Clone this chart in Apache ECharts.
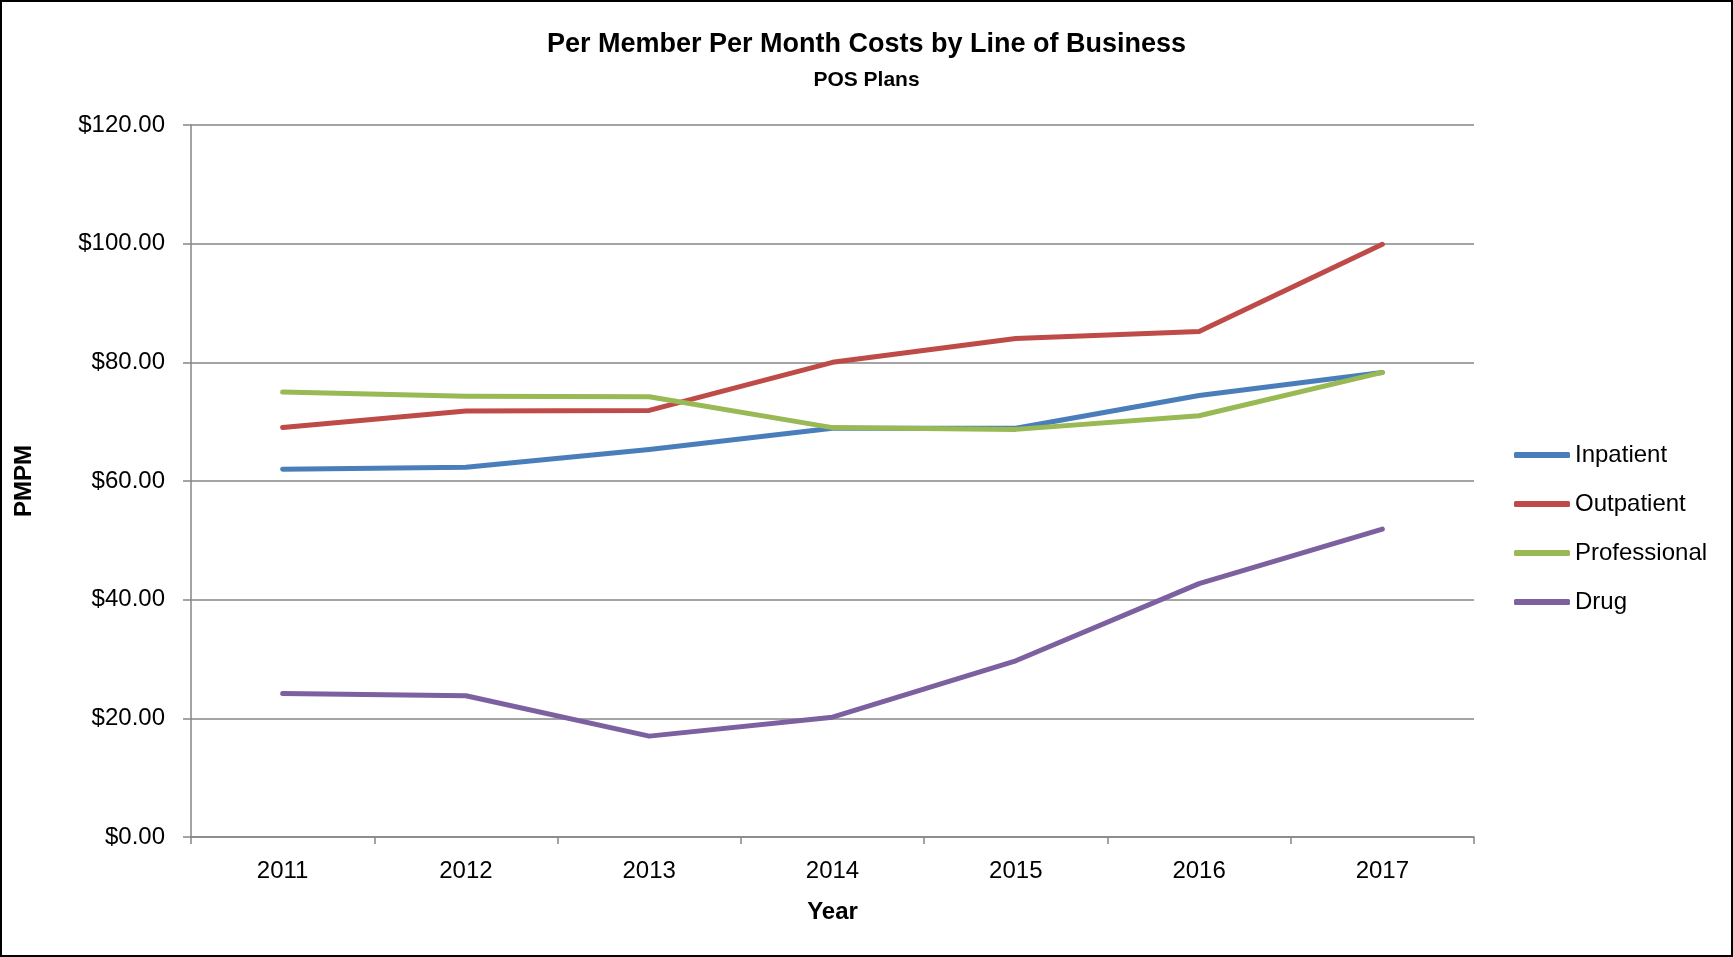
<!DOCTYPE html>
<html>
<head>
<meta charset="utf-8">
<title>PMPM Costs by Line of Business</title>
<script src="https://cdn.jsdelivr.net/npm/echarts@6/dist/echarts.min.js"></script>
<style>
  html, body { margin: 0; padding: 0; background: #fff; }
  #main { width: 1733px; height: 957px; }
</style>
</head>
<body>
<div id="main"></div>
<script>
// data
var years = ['2011', '2012', '2013', '2014', '2015', '2016', '2017'];
var inpatient = [62.0, 62.3, 65.3, 68.9, 68.9, 74.4, 78.3];
var outpatient = [69.0, 71.8, 71.9, 80.0, 84.0, 85.2, 99.9];
var professional = [75.0, 74.3, 74.2, 69.0, 68.7, 71.0, 78.3];
var drug = [24.2, 23.8, 17.0, 20.2, 29.7, 42.7, 51.9];

var font = 'Liberation Sans';

var chart = echarts.init(document.getElementById('main'));

function lineSeries(name, data, color) {
  return {
    name: name,
    type: 'line',
    data: data,
    showSymbol: false,
    symbol: 'none',
    lineStyle: { color: color, width: 5, cap: 'round', join: 'round' },
    itemStyle: { color: color }
  };
}

var option = {
  animation: false,
  backgroundColor: '#fff',
  textStyle: { fontFamily: font, color: '#000' },
  graphic: [{
    type: 'rect',
    shape: { x: 1, y: 1, width: 1731, height: 955 },
    style: { fill: 'none', stroke: '#000', lineWidth: 2 },
    silent: true
  }],
  title: [{
    text: 'Per Member Per Month Costs by Line of Business',
    left: 'center',
    top: 26,
    textStyle: { fontFamily: font, fontSize: 27, fontWeight: 'bold', color: '#000' }
  }, {
    text: 'POS Plans',
    left: 'center',
    top: 65,
    textStyle: { fontFamily: font, fontSize: 21, fontWeight: 'bold', color: '#000' }
  }],
  legend: {
    orient: 'vertical',
    left: 1514,
    top: 443,
    padding: 0,
    icon: 'roundRect',
    itemWidth: 56,
    itemHeight: 6,
    itemGap: 25,
    textStyle: { fontFamily: font, fontSize: 24, color: '#000' },
    data: ['Inpatient', 'Outpatient', 'Professional', 'Drug']
  },
  grid: { left: 191, top: 125, width: 1283, height: 712, containLabel: false },
  xAxis: {
    type: 'category',
    data: years,
    boundaryGap: true,
    name: 'Year',
    nameLocation: 'middle',
    nameGap: 63,
    nameTextStyle: { fontFamily: font, fontSize: 24, fontWeight: 'bold', color: '#000' },
    axisLine: { lineStyle: { color: '#868686', width: 1.5 } },
    axisTick: { show: true, length: 7, inside: false, alignWithLabel: false, lineStyle: { color: '#868686', width: 1.5 } },
    axisLabel: { fontFamily: font, fontSize: 24, color: '#000', margin: 22 },
    splitLine: { show: false }
  },
  yAxis: {
    type: 'value',
    min: 0,
    max: 120,
    interval: 20,
    name: 'PMPM',
    nameLocation: 'middle',
    nameRotate: 90,
    nameGap: 155,
    nameTextStyle: { fontFamily: font, fontSize: 24, fontWeight: 'bold', color: '#000' },
    axisLine: { show: true, lineStyle: { color: '#868686', width: 1.5 } },
    axisTick: { show: true, length: 8, inside: false, lineStyle: { color: '#868686', width: 1.5 } },
    axisLabel: {
      fontFamily: font, fontSize: 24, color: '#000', margin: 26,
      formatter: function (v) { return '$' + v.toFixed(2); }
    },
    splitLine: { show: true, lineStyle: { color: '#868686', width: 1.5 } }
  },
  series: [
    lineSeries('Inpatient', inpatient, '#4A7EBB'),
    lineSeries('Outpatient', outpatient, '#BE4B48'),
    lineSeries('Professional', professional, '#98B954'),
    lineSeries('Drug', drug, '#7D60A0')
  ]
};

chart.setOption(option);
</script>
</body>
</html>
